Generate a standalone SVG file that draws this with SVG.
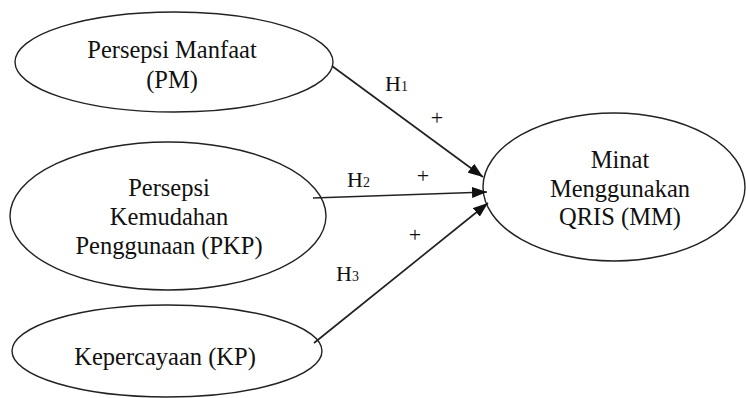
<svg xmlns="http://www.w3.org/2000/svg" width="746" height="398" viewBox="0 0 746 398">
<style>
.node ellipse{fill:#fff;stroke:#222;stroke-width:1.4}
.node text{font-family:"Liberation Serif","Times New Roman",serif;font-size:24.5px;fill:#111;text-anchor:middle}
.edge line{stroke:#222;stroke-width:1.7}
.lbl{font-family:"Liberation Serif","Times New Roman",serif;font-size:22px;fill:#111}
.sub{font-size:14px}
</style>
<defs>
<marker id="arr" markerUnits="userSpaceOnUse" markerWidth="15" markerHeight="11" refX="15" refY="5.5" orient="auto">
<path d="M0,0 L15,5.5 L0,11 z" fill="#111"/>
</marker>
</defs>
<rect width="746" height="398" fill="#fff"/>
<g id="node-PM" class="node">
<ellipse cx="174" cy="62" rx="159" ry="50"/>
<text x="172" y="58">Persepsi Manfaat</text>
<text x="172" y="88">(PM)</text>
</g>
<g id="node-PKP" class="node">
<ellipse cx="168" cy="216" rx="158" ry="74"/>
<text x="169" y="196">Persepsi</text>
<text x="169" y="225">Kemudahan</text>
<text x="169" y="254">Penggunaan (PKP)</text>
</g>
<g id="node-KP" class="node">
<ellipse cx="167" cy="351" rx="155" ry="46"/>
<text x="165" y="365">Kepercayaan (KP)</text>
</g>
<g id="node-MM" class="node">
<ellipse cx="614" cy="187" rx="131" ry="74"/>
<text x="620" y="168">Minat</text>
<text x="620" y="197">Menggunakan</text>
<text x="620" y="225">QRIS (MM)</text>
</g>
<g id="connectors" class="edge">
<line x1="332" y1="66" x2="483" y2="177" marker-end="url(#arr)"/>
<line x1="313" y1="198" x2="487" y2="192" marker-end="url(#arr)"/>
<line x1="314" y1="343" x2="488" y2="203" marker-end="url(#arr)"/>
</g>
<g id="labels">
<text class="lbl" x="385" y="91">H<tspan class="sub">1</tspan></text>
<text class="lbl" x="437" y="125" text-anchor="middle">+</text>
<text class="lbl" x="347" y="187">H<tspan class="sub">2</tspan></text>
<text class="lbl" x="423" y="183" text-anchor="middle">+</text>
<text class="lbl" x="415" y="242" text-anchor="middle">+</text>
<text class="lbl" x="336" y="281">H<tspan class="sub">3</tspan></text>
</g>
</svg>
